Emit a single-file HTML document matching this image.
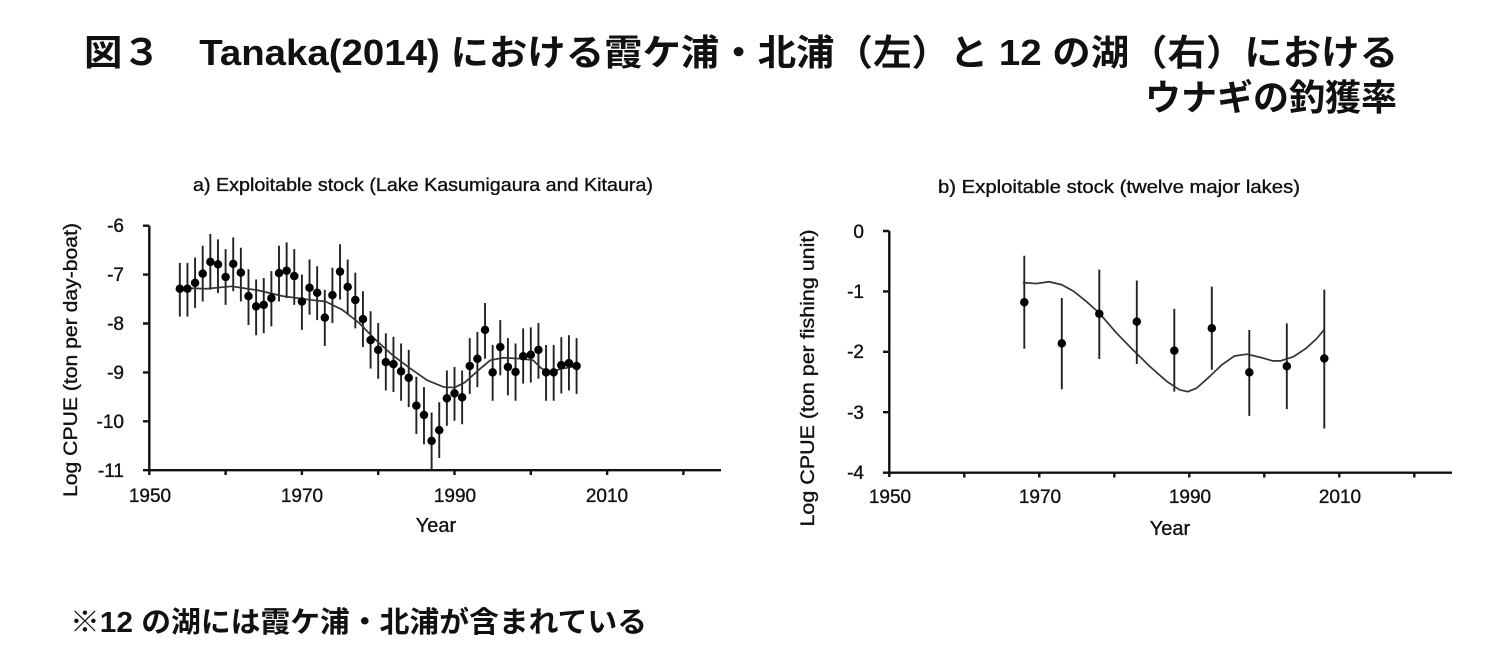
<!DOCTYPE html>
<html>
<head>
<meta charset="utf-8">
<style>
  html,body{margin:0;padding:0;background:#fff;}
  svg{display:block;}
  .jp{font-family:"Liberation Sans","Noto Sans CJK JP",sans-serif;font-weight:bold;fill:#111;}
  .t{font-family:"Liberation Sans",sans-serif;fill:#111;stroke:#111;stroke-width:0.35;}
  .ax{stroke:#111;stroke-width:2.4;fill:none;}
  .eb{stroke:#222;stroke-width:1.9;fill:none;vector-effect:non-scaling-stroke;}
  .dot{stroke:#000;stroke-width:8.5;stroke-linecap:round;fill:none;vector-effect:non-scaling-stroke;}
  .cv{stroke:#333;stroke-width:1.7;fill:none;stroke-linejoin:round;vector-effect:non-scaling-stroke;}
</style>
</head>
<body>
<svg width="1501" height="664" viewBox="0 0 1501 664" xmlns="http://www.w3.org/2000/svg">
  <rect width="1501" height="664" fill="#fff"/>

  <!-- Title -->
  <text class="jp" x="84" y="65" font-size="36" textLength="1314" lengthAdjust="spacingAndGlyphs">図３　Tanaka(2014) における霞ケ浦・北浦（左）と 12 の湖（右）における</text>
  <text class="jp" x="1397" y="110" font-size="36" text-anchor="end">ウナギの釣獲率</text>

  <!-- Footnote -->
  <text class="jp" x="70" y="632" font-size="29" textLength="577" lengthAdjust="spacingAndGlyphs">※12 の湖には霞ケ浦・北浦が含まれている</text>

  <!-- ============ Chart a ============ -->
  <text class="t" x="423" y="191" font-size="18" text-anchor="middle" textLength="460" lengthAdjust="spacingAndGlyphs">a) Exploitable stock (Lake Kasumigaura and Kitaura)</text>
  <text class="t" font-size="19" text-anchor="middle" transform="translate(77,360) rotate(-90)" textLength="274" lengthAdjust="spacingAndGlyphs">Log CPUE (ton per day-boat)</text>
  <text class="t" x="436" y="532" font-size="20" text-anchor="middle">Year</text>

  <!-- axes -->
  <path class="ax" d="M149.3 225.7V475 M143 470.2H721
     M143 225.7H149.3 M143 274.6H149.3 M143 323.5H149.3 M143 372.4H149.3 M143 421.3H149.3
     M225.6 470.2V475 M301.9 470.2V475 M378.2 470.2V475 M454.5 470.2V475 M530.8 470.2V475 M607.1 470.2V475 M683.4 470.2V475"/>
  <g class="t" font-size="19" text-anchor="end">
    <text x="124" y="232">-6</text>
    <text x="124" y="281">-7</text>
    <text x="124" y="330">-8</text>
    <text x="124" y="379">-9</text>
    <text x="124" y="428">-10</text>
    <text x="124" y="477">-11</text>
  </g>
  <g class="t" font-size="19" text-anchor="middle">
    <text x="150" y="502">1950</text>
    <text x="302" y="502">1970</text>
    <text x="455" y="502">1990</text>
    <text x="607" y="502">2010</text>
  </g>

  <g transform="translate(149.3,-67.7) scale(7.63,-48.9)">
    <path class="eb" d="M4 -6.76V-7.86 M5 -6.76V-7.86 M6 -6.65V-7.68 M7 -6.41V-7.55 M8 -6.17V-7.31 M9 -6.28V-7.38 M10 -6.48V-7.62 M11 -6.24V-7.34 M12 -6.45V-7.55 M13 -6.89V-8.03 M14 -7.10V-8.24 M15 -7.07V-8.20 M16 -6.93V-8.06 M17 -6.41V-7.55 M18 -6.34V-7.48 M19 -6.48V-7.62 M20 -7.0V-8.13 M21 -6.69V-7.82 M22 -6.83V-7.93 M23 -7.31V-8.46 M24 -6.86V-7.99 M25 -6.38V-7.51 M26 -6.69V-7.82 M27 -6.96V-8.10 M28 -7.34V-8.48 M29 -7.75V-8.92 M30 -7.99V-9.13 M31 -8.20V-9.37 M32 -8.27V-9.40 M33 -8.41V-9.58 M34 -8.54V-9.71 M35 -9.09V-10.26 M36 -9.30V-10.47 M37 -9.82V-11.0 M38 -9.61V-10.75 M39 -8.96V-10.09 M40 -8.89V-9.99 M41 -8.96V-10.06 M42 -8.30V-9.44 M43 -8.17V-9.30 M44 -7.58V-8.72 M45 -8.44V-9.58 M46 -7.93V-9.06 M47 -8.30V-9.47 M48 -8.41V-9.58 M49 -8.10V-9.23 M50 -8.08V-9.21 M51 -7.99V-9.13 M52 -8.44V-9.58 M53 -8.44V-9.58 M54 -8.28V-9.43 M55 -8.24V-9.37 M56 -8.30V-9.44"/>
    <path class="cv" d="M4 -7.27 L7.5 -7.29 L10.8 -7.24 L14.2 -7.32 L17.5 -7.44 L20.8 -7.51 L23.1 -7.55 L25.3 -7.72 L27.5 -7.99 L29.7 -8.34 L31.9 -8.65 L34.2 -8.92 L36.4 -9.16 L38.6 -9.30 L40 -9.31 L41.4 -9.20 L43.1 -8.96 L44.7 -8.75 L46.4 -8.70 L48.6 -8.72 L50.3 -8.75 L51.4 -8.92 L52.5 -8.99 L54.2 -8.92 L56.1 -8.87"/>
    <path class="dot" d="M4 -7.29h0.001 M5 -7.29h0.001 M6 -7.17h0.001 M7 -6.98h0.001 M8 -6.74h0.001 M9 -6.79h0.001 M10 -7.05h0.001 M11 -6.78h0.001 M12 -6.96h0.001 M13 -7.44h0.001 M14 -7.65h0.001 M15 -7.62h0.001 M16 -7.48h0.001 M17 -6.97h0.001 M18 -6.92h0.001 M19 -7.03h0.001 M20 -7.55h0.001 M21 -7.27h0.001 M22 -7.37h0.001 M23 -7.88h0.001 M24 -7.42h0.001 M25 -6.94h0.001 M26 -7.25h0.001 M27 -7.52h0.001 M28 -7.91h0.001 M29 -8.34h0.001 M30 -8.54h0.001 M31 -8.79h0.001 M32 -8.83h0.001 M33 -8.98h0.001 M34 -9.11h0.001 M35 -9.68h0.001 M36 -9.87h0.001 M37 -10.40h0.001 M38 -10.18h0.001 M39 -9.53h0.001 M40 -9.43h0.001 M41 -9.51h0.001 M42 -8.87h0.001 M43 -8.72h0.001 M44 -8.13h0.001 M45 -9.00h0.001 M46 -8.48h0.001 M47 -8.89h0.001 M48 -8.99h0.001 M49 -8.67h0.001 M50 -8.64h0.001 M51 -8.54h0.001 M52 -9.00h0.001 M53 -9.00h0.001 M54 -8.85h0.001 M55 -8.81h0.001 M56 -8.87h0.001"/>
  </g>

  <!-- ============ Chart b ============ -->
  <text class="t" x="1119" y="193" font-size="18" text-anchor="middle" textLength="362" lengthAdjust="spacingAndGlyphs">b) Exploitable stock (twelve major lakes)</text>
  <text class="t" font-size="19" text-anchor="middle" transform="translate(814,378) rotate(-90)" textLength="297" lengthAdjust="spacingAndGlyphs">Log CPUE (ton per fishing unit)</text>
  <text class="t" x="1170" y="535" font-size="20" text-anchor="middle">Year</text>

  <path class="ax" d="M889.3 231V477 M883 472.7H1452
     M883 231H889.3 M883 291.4H889.3 M883 351.8H889.3 M883 412.2H889.3
     M964.3 472.7V477.5 M1039.3 472.7V477.5 M1114.3 472.7V477.5 M1189.3 472.7V477.5 M1264.3 472.7V477.5 M1339.3 472.7V477.5 M1414.3 472.7V477.5"/>
  <g class="t" font-size="19" text-anchor="end">
    <text x="864" y="238">0</text>
    <text x="864" y="298">-1</text>
    <text x="864" y="358">-2</text>
    <text x="864" y="419">-3</text>
    <text x="864" y="479">-4</text>
  </g>
  <g class="t" font-size="19" text-anchor="middle">
    <text x="890" y="503">1950</text>
    <text x="1040" y="503">1970</text>
    <text x="1190" y="503">1990</text>
    <text x="1340" y="503">2010</text>
  </g>

  <g transform="translate(889.3,231) scale(7.5,-60.4)">
    <path class="eb" d="M18 -0.41V-1.95 M23 -1.11V-2.62 M28 -0.64V-2.12 M33 -0.82V-2.20 M38 -1.29V-2.66 M43 -0.92V-2.30 M48 -1.64V-3.06 M53 -1.53V-2.95 M58 -0.97V-3.27"/>
    <path class="cv" d="M17.8 -0.855 L19.6 -0.87 L21.3 -0.84 L23 -0.89 L24.6 -1.0 L26.3 -1.17 L28 -1.36 L30.3 -1.69 L32.5 -1.97 L34.8 -2.25 L37 -2.49 L38.7 -2.63 L39.8 -2.66 L41 -2.60 L42.7 -2.41 L44.3 -2.22 L46 -2.07 L47.7 -2.04 L49.4 -2.09 L51.1 -2.15 L52.2 -2.15 L53.9 -2.08 L55.6 -1.94 L57 -1.78 L58 -1.63"/>
    <path class="dot" d="M18 -1.18h0.001 M23 -1.86h0.001 M28 -1.37h0.001 M33 -1.50h0.001 M38 -1.98h0.001 M43 -1.61h0.001 M48 -2.34h0.001 M53 -2.24h0.001 M58 -2.11h0.001"/>
  </g>
</svg>
</body>
</html>
